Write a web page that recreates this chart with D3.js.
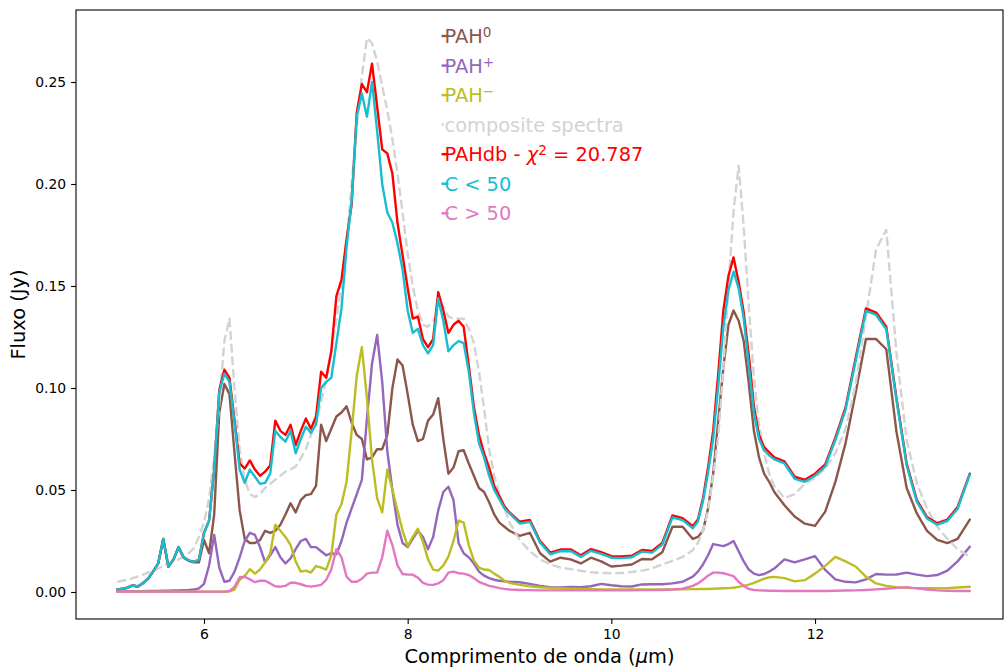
<!DOCTYPE html>
<html>
<head>
<meta charset="utf-8">
<script src="https://cdn.jsdelivr.net/npm/d3@7"></script>
<style>
  body { margin: 0; background: #fff; }
  svg { display: block; }
  text { font-family: "DejaVu Sans", sans-serif; }
</style>
</head>
<body>
<svg id="chart" width="1004" height="667"></svg>
<script>
// ---------------- DATA ----------------
const wavelength = [
  5.15, 5.20, 5.25, 5.30, 5.35, 5.40, 5.45, 5.50, 5.55, 5.60,
  5.65, 5.70, 5.75, 5.80, 5.85, 5.90, 5.95, 6.00, 6.05, 6.10,
  6.15, 6.20, 6.25, 6.30, 6.35, 6.40, 6.45, 6.50, 6.55, 6.60,
  6.65, 6.70, 6.75, 6.80, 6.85, 6.90, 6.95, 7.00, 7.05, 7.10,
  7.15, 7.20, 7.25, 7.30, 7.35, 7.40, 7.45, 7.50, 7.55, 7.60,
  7.65, 7.70, 7.75, 7.80, 7.85, 7.90, 7.95, 8.00, 8.05, 8.10,
  8.15, 8.20, 8.25, 8.30, 8.35, 8.40, 8.45, 8.50, 8.55, 8.60,
  8.65, 8.70, 8.75, 8.80, 8.85, 8.90, 8.95, 9.00,
  9.1, 9.2, 9.3, 9.4, 9.5, 9.6, 9.7, 9.8, 9.9, 10.0, 10.1, 10.2, 10.3, 10.4, 10.5, 10.6, 10.7, 10.8,
  10.85, 10.9, 10.95, 11.0, 11.05, 11.1, 11.15, 11.2, 11.25, 11.3, 11.35, 11.4, 11.45, 11.5, 11.55, 11.6,
  11.7, 11.8, 11.9, 12.0, 12.1, 12.2, 12.3, 12.4, 12.5, 12.6, 12.7, 12.8, 12.9, 13.0, 13.1, 13.2, 13.3, 13.4, 13.52
];

const pah0 = [
  0.0013, 0.0016, 0.0021, 0.0032, 0.0027, 0.0043, 0.0065, 0.0100, 0.0140, 0.0258,
  0.0124, 0.0158, 0.0218, 0.0168, 0.0153, 0.0145, 0.0145, 0.0255, 0.0190, 0.0380,
  0.0880, 0.1020, 0.0970, 0.0680, 0.0400, 0.0260, 0.0240, 0.0240, 0.0255, 0.0300,
  0.0290, 0.0300, 0.0330, 0.0380, 0.0435, 0.0390, 0.0450, 0.0475, 0.0480, 0.0520,
  0.0820, 0.0740, 0.0800, 0.0860, 0.0880, 0.0910, 0.0830, 0.0770, 0.0750, 0.0650,
  0.0660, 0.0700, 0.0700, 0.0770, 0.1000, 0.1140, 0.1110, 0.0970, 0.0820, 0.0740,
  0.0750, 0.0840, 0.0870, 0.0950, 0.0750, 0.0580, 0.0610, 0.0690, 0.0695, 0.0630,
  0.0570, 0.0510, 0.0490, 0.0440, 0.0380, 0.0340, 0.0320, 0.0300,
  0.0275, 0.0290, 0.0190, 0.0149, 0.0168, 0.0160, 0.0140, 0.0168, 0.0150, 0.0125, 0.0129, 0.0135, 0.0162, 0.0160, 0.0195, 0.0320, 0.0320, 0.0260,
  0.0270, 0.0300, 0.0410, 0.0580, 0.0840, 0.1100, 0.1310, 0.1380, 0.1330, 0.1230, 0.1020, 0.0790, 0.0660, 0.0580, 0.0540, 0.0490,
  0.0425, 0.0370, 0.0335, 0.0324, 0.0394, 0.0540, 0.0730, 0.0980, 0.1240, 0.1240, 0.1190, 0.0785, 0.0510, 0.0385, 0.0300, 0.0255, 0.0240, 0.0260, 0.0355
];

const pahPlus = [
  0.0003, 0.0003, 0.0003, 0.0004, 0.0004, 0.0004, 0.0005, 0.0005, 0.0005, 0.0006,
  0.0006, 0.0007, 0.0008, 0.0009, 0.0010, 0.0012, 0.0018, 0.0040, 0.0130, 0.0280,
  0.0120, 0.0050, 0.0055, 0.0100, 0.0170, 0.0250, 0.0290, 0.0280, 0.0220, 0.0145,
  0.0180, 0.0220, 0.0170, 0.0140, 0.0165, 0.0210, 0.0250, 0.0260, 0.0220, 0.0220,
  0.0200, 0.0180, 0.0190, 0.0185, 0.0250, 0.0340, 0.0410, 0.0480, 0.0550, 0.0850,
  0.1120, 0.1260, 0.1030, 0.0690, 0.0500, 0.0330, 0.0240, 0.0220, 0.0260, 0.0300,
  0.0270, 0.0210, 0.0270, 0.0400, 0.0490, 0.0516, 0.0450, 0.0240, 0.0190, 0.0170,
  0.0140, 0.0100, 0.0080, 0.0068, 0.0060, 0.0055, 0.0052, 0.0050,
  0.0048, 0.0040, 0.0030, 0.0024, 0.0022, 0.0025, 0.0023, 0.0028, 0.0040, 0.0033, 0.0028, 0.0027, 0.0037, 0.0038, 0.0038, 0.0042, 0.0050, 0.0075,
  0.0100, 0.0135, 0.0180, 0.0235, 0.0230, 0.0225, 0.0235, 0.0250, 0.0200, 0.0150, 0.0110, 0.0090, 0.0083, 0.0088, 0.0100, 0.0115,
  0.0160, 0.0145, 0.0160, 0.0176, 0.0108, 0.0062, 0.0050, 0.0047, 0.0062, 0.0088, 0.0085, 0.0086, 0.0095, 0.0085, 0.0078, 0.0083, 0.0105, 0.0150, 0.0222
];

const pahMinus = [
  0.0001, 0.0001, 0.0001, 0.0001, 0.0001, 0.0001, 0.0001, 0.0001, 0.0001, 0.0001,
  0.0001, 0.0001, 0.0001, 0.0001, 0.0001, 0.0001, 0.0001, 0.0001, 0.0001, 0.0001,
  0.0001, 0.0001, 0.0003, 0.0012, 0.0060, 0.0078, 0.0112, 0.0090, 0.0110, 0.0145,
  0.0190, 0.0330, 0.0300, 0.0270, 0.0230, 0.0150, 0.0100, 0.0105, 0.0095, 0.0127,
  0.0120, 0.0110, 0.0180, 0.0380, 0.0430, 0.0540, 0.0790, 0.1060, 0.1200, 0.0950,
  0.0650, 0.0460, 0.0390, 0.0600, 0.0500, 0.0400, 0.0300, 0.0225, 0.0270, 0.0310,
  0.0245, 0.0160, 0.0110, 0.0105, 0.0130, 0.0173, 0.0250, 0.0350, 0.0340, 0.0230,
  0.0155, 0.0120, 0.0110, 0.0108, 0.0090, 0.0075, 0.0055, 0.0045,
  0.0035, 0.0028, 0.0023, 0.0020, 0.0018, 0.0016, 0.0015, 0.0014, 0.0013, 0.0012, 0.0012, 0.0012, 0.0012, 0.0012, 0.0012, 0.0013, 0.0013, 0.0014,
  0.0014, 0.0015, 0.0015, 0.0016, 0.0017, 0.0018, 0.0019, 0.0021, 0.0025, 0.0030, 0.0036, 0.0045, 0.0055, 0.0065, 0.0072, 0.0074,
  0.0068, 0.0052, 0.0058, 0.0090, 0.0128, 0.0172, 0.0150, 0.0125, 0.0075, 0.0042, 0.0030, 0.0023, 0.0020, 0.0019, 0.0018, 0.0018, 0.0019, 0.0022, 0.0026
];

const composite = [
  0.0050, 0.0055, 0.0060, 0.0068, 0.0076, 0.0085, 0.0095, 0.0105, 0.0115, 0.0128,
  0.0140, 0.0150, 0.0160, 0.0173, 0.0190, 0.0215, 0.0270, 0.0340, 0.0460, 0.0660,
  0.0920, 0.1230, 0.1340, 0.0990, 0.0700, 0.0550, 0.0480, 0.0465, 0.0480, 0.0510,
  0.0530, 0.0550, 0.0570, 0.0590, 0.0600, 0.0615, 0.0655, 0.0700, 0.0770, 0.0840,
  0.0930, 0.1040, 0.1180, 0.1330, 0.1520, 0.1720, 0.2000, 0.2280, 0.2530, 0.2715,
  0.2690, 0.2600, 0.2480, 0.2360, 0.2220, 0.2050, 0.1860, 0.1660, 0.1500, 0.1380,
  0.1310, 0.1300, 0.1330, 0.1370, 0.1400, 0.1350, 0.1340, 0.1340, 0.1340, 0.1290,
  0.1220, 0.1080, 0.0900, 0.0700, 0.0570, 0.0480, 0.0410, 0.0340,
  0.0255, 0.0200, 0.0160, 0.0135, 0.0120, 0.0112, 0.0104, 0.0097, 0.0093, 0.0092, 0.0093, 0.0098, 0.0105, 0.0115, 0.0135, 0.0152, 0.0172, 0.0205,
  0.0240, 0.0300, 0.0400, 0.0570, 0.0760, 0.1100, 0.1500, 0.1870, 0.2090, 0.1790, 0.1400, 0.1050, 0.0820, 0.0680, 0.0580, 0.0520,
  0.0460, 0.0480, 0.0530, 0.0560, 0.0605, 0.0680, 0.0800, 0.1020, 0.1350, 0.1680, 0.1775, 0.1170, 0.0745, 0.0533, 0.0410, 0.0320, 0.0260, 0.0210, 0.0173
];

const pahdbTotal = [
  0.0013, 0.0016, 0.0021, 0.0032, 0.0027, 0.0043, 0.0065, 0.0100, 0.0140, 0.0260,
  0.0125, 0.0160, 0.0220, 0.0170, 0.0155, 0.0148, 0.0158, 0.0290, 0.0350, 0.0600,
  0.0990, 0.1090, 0.1050, 0.0840, 0.0630, 0.0605, 0.0645, 0.0600, 0.0570, 0.0590,
  0.0620, 0.0840, 0.0790, 0.0770, 0.0820, 0.0720, 0.0790, 0.0850, 0.0800, 0.0860,
  0.1080, 0.1050, 0.1180, 0.1450, 0.1530, 0.1730, 0.1900, 0.2350, 0.2490, 0.2450,
  0.2590, 0.2380, 0.2170, 0.2150, 0.2050, 0.1810, 0.1650, 0.1490, 0.1340, 0.1350,
  0.1240, 0.1200, 0.1240, 0.1470, 0.1380, 0.1270, 0.1310, 0.1330, 0.1300, 0.1110,
  0.0910, 0.0770, 0.0680, 0.0610, 0.0520, 0.0470, 0.0420, 0.0390,
  0.0345, 0.0353, 0.0250, 0.0193, 0.0208, 0.0209, 0.0180, 0.0210, 0.0195, 0.0176, 0.0174, 0.0178, 0.0206, 0.0201, 0.0240, 0.0375, 0.0362, 0.0322,
  0.0355, 0.0460, 0.0610, 0.0790, 0.1070, 0.1380, 0.1550, 0.1640, 0.1520, 0.1370, 0.1160, 0.0910, 0.0770, 0.0710, 0.0685, 0.0660,
  0.0640, 0.0565, 0.0550, 0.0580, 0.0625, 0.0757, 0.0905, 0.1150, 0.1390, 0.1370, 0.1300, 0.0950, 0.0630, 0.0450, 0.0367, 0.0337, 0.0355, 0.0416, 0.0580
];

const cLess50 = [
  0.0013, 0.0016, 0.0021, 0.0032, 0.0027, 0.0043, 0.0065, 0.0100, 0.0140, 0.0260,
  0.0125, 0.0160, 0.0220, 0.0170, 0.0155, 0.0148, 0.0158, 0.0288, 0.0350, 0.0600,
  0.0980, 0.1070, 0.1030, 0.0830, 0.0600, 0.0535, 0.0600, 0.0565, 0.0530, 0.0535,
  0.0580, 0.0790, 0.0760, 0.0737, 0.0790, 0.0680, 0.0750, 0.0810, 0.0780, 0.0820,
  0.1000, 0.1030, 0.1050, 0.1220, 0.1390, 0.1690, 0.1920, 0.2330, 0.2444, 0.2330,
  0.2500, 0.2260, 0.2000, 0.1860, 0.1810, 0.1710, 0.1580, 0.1380, 0.1270, 0.1290,
  0.1210, 0.1170, 0.1210, 0.1440, 0.1330, 0.1180, 0.1210, 0.1230, 0.1220, 0.1080,
  0.0880, 0.0730, 0.0660, 0.0570, 0.0500, 0.0455, 0.0410, 0.0385,
  0.0336, 0.0344, 0.0242, 0.0185, 0.0200, 0.0201, 0.0172, 0.0202, 0.0187, 0.0168, 0.0166, 0.0170, 0.0198, 0.0193, 0.0232, 0.0365, 0.0352, 0.0312,
  0.0345, 0.0445, 0.0585, 0.0750, 0.1010, 0.1300, 0.1480, 0.1570, 0.1490, 0.1340, 0.1110, 0.0880, 0.0750, 0.0695, 0.0670, 0.0650,
  0.0630, 0.0555, 0.0540, 0.0570, 0.0615, 0.0745, 0.0893, 0.1135, 0.1378, 0.1358, 0.1288, 0.0940, 0.0620, 0.0442, 0.0360, 0.0330, 0.0348, 0.0408, 0.0575
];

const cMore50 = [
  0.0002, 0.0002, 0.0002, 0.0002, 0.0002, 0.0002, 0.0002, 0.0002, 0.0002, 0.0002,
  0.0002, 0.0002, 0.0002, 0.0002, 0.0002, 0.0002, 0.0002, 0.0002, 0.0002, 0.0002,
  0.0002, 0.0002, 0.0005, 0.0025, 0.0072, 0.0075, 0.0062, 0.0048, 0.0055, 0.0055,
  0.0042, 0.0028, 0.0026, 0.0030, 0.0045, 0.0045, 0.0038, 0.0030, 0.0026, 0.0030,
  0.0035, 0.0060, 0.0110, 0.0210, 0.0170, 0.0075, 0.0050, 0.0050, 0.0065, 0.0090,
  0.0095, 0.0095, 0.0170, 0.0300, 0.0230, 0.0130, 0.0088, 0.0085, 0.0085, 0.0070,
  0.0045, 0.0036, 0.0035, 0.0042, 0.0058, 0.0095, 0.0100, 0.0092, 0.0090, 0.0083,
  0.0068, 0.0050, 0.0040, 0.0030, 0.0025, 0.0019, 0.0015, 0.0012,
  0.0010, 0.0009, 0.0008, 0.0008, 0.0008, 0.0008, 0.0008, 0.0008, 0.0008, 0.0008, 0.0008, 0.0008, 0.0009, 0.0009, 0.0010, 0.0012, 0.0016, 0.0030,
  0.0042, 0.0060, 0.0080, 0.0095, 0.0095, 0.0092, 0.0085, 0.0078, 0.0050, 0.0030, 0.0015, 0.0010, 0.0008, 0.0007, 0.0006, 0.0006,
  0.0005, 0.0005, 0.0005, 0.0005, 0.0005, 0.0006, 0.0007, 0.0008, 0.0010, 0.0013, 0.0016, 0.0020, 0.0024, 0.0018, 0.0012, 0.0008, 0.0006, 0.0005, 0.0005
];

const xTickValues = [6, 8, 10, 12];
const xTickLabels = ["6", "8", "10", "12"];
const yTickValues = [0, 0.05, 0.10, 0.15, 0.20, 0.25];
const yTickLabels = ["0.00", "0.05", "0.10", "0.15", "0.20", "0.25"];

// legend labels as rich-text parts
const legendLabels = [
  [{t: "PAH"}, {t: "0", sup: true}],
  [{t: "PAH"}, {t: "+", sup: true}],
  [{t: "PAH"}, {t: "\u2212", sup: true}],
  [{t: "composite spectra"}],
  [{t: "PAHdb - "}, {t: "\u03C7", it: true}, {t: "2", sup: true}, {t: " = 20.787"}],
  [{t: "C < 50"}],
  [{t: "C > 50"}]
];

// ---------------- DRAW ----------------
const svg = d3.select("#chart");
const X0 = 76, X1 = 1003, Y0 = 10, Y1 = 619;

const x = d3.scaleLinear().domain([4.743, 13.846]).range([X0, X1]);
const y = d3.scaleLinear().domain([-0.01324, 0.2853]).range([Y1, Y0]);

const series = [
  {values: pah0,       color: "#8c564b"},
  {values: pahPlus,    color: "#9467bd"},
  {values: pahMinus,   color: "#bcbd22"},
  {values: composite,  color: "#d3d3d3", dash: "8.9,3.8"},
  {values: pahdbTotal, color: "#ff0000"},
  {values: cLess50,    color: "#17becf"},
  {values: cMore50,    color: "#e377c2"}
];

const line = d3.line()
  .x((d, i) => x(wavelength[i]))
  .y(d => y(d));

const gLines = svg.append("g");
series.forEach(s => {
  gLines.append("path")
    .attr("d", line(s.values))
    .attr("fill", "none")
    .attr("stroke", s.color)
    .attr("stroke-width", 2.4)
    .attr("stroke-linejoin", "round")
    .attr("stroke-linecap", s.dash ? "butt" : "round")
    .attr("stroke-dasharray", s.dash || null);
});

// axes
const gx = svg.append("g")
  .attr("transform", `translate(0,${Y1})`)
  .call(d3.axisBottom(x).tickValues(xTickValues)
    .tickFormat((d, i) => xTickLabels[i]).tickSize(4.9).tickPadding(4.9));
gx.select(".domain").remove();
gx.attr("font-size", 13.9).attr("font-family", "DejaVu Sans");
gx.selectAll("line").attr("stroke", "#000").attr("stroke-width", 1.1);
gx.selectAll("text").attr("fill", "#000");

const gy = svg.append("g")
  .attr("transform", `translate(${X0},0)`)
  .call(d3.axisLeft(y).tickValues(yTickValues)
    .tickFormat((d, i) => yTickLabels[i]).tickSize(4.9).tickPadding(4.9));
gy.select(".domain").remove();
gy.attr("font-size", 13.9).attr("font-family", "DejaVu Sans");
gy.selectAll("line").attr("stroke", "#000").attr("stroke-width", 1.1);
gy.selectAll("text").attr("fill", "#000");

// frame
svg.append("rect")
  .attr("x", X0).attr("y", Y0)
  .attr("width", X1 - X0).attr("height", Y1 - Y0)
  .attr("fill", "none").attr("stroke", "#000").attr("stroke-width", 1.1);

// axis labels
const xl = svg.append("text")
  .attr("x", (X0 + X1) / 2).attr("y", 663)
  .attr("text-anchor", "middle").attr("font-size", 19.4).attr("fill", "#000");
xl.append("tspan").text("Comprimento de onda (");
xl.append("tspan").attr("font-style", "italic").text("\u03BC");
xl.append("tspan").text("m)");

svg.append("text")
  .attr("transform", `translate(25,${(Y0 + Y1) / 2}) rotate(-90)`)
  .attr("text-anchor", "middle").attr("font-size", 19.4).attr("fill", "#000")
  .text("Fluxo (Jy)");

// legend
const gLeg = svg.append("g");
legendLabels.forEach((parts, i) => {
  const s = series[i];
  const base = 43 + i * 29.55;
  gLeg.append("line")
    .attr("x1", 441.5).attr("x2", 448.5)
    .attr("y1", base - 7).attr("y2", base - 7)
    .attr("stroke", s.color).attr("stroke-width", 2.4)
    .attr("stroke-dasharray", s.dash ? "2,5" : null);
  const t = gLeg.append("text")
    .attr("x", 444.5).attr("y", base)
    .attr("font-size", 19.4).attr("fill", s.color)
    .style("white-space", "pre");
  let shift = 0;
  parts.forEach(p => {
    const ts = t.append("tspan").text(p.t);
    if (p.sup) {
      ts.attr("font-size", 13.6).attr("dy", -6 - shift);
      shift = -6;
    } else {
      if (shift !== 0) { ts.attr("dy", -shift); shift = 0; }
      if (p.it) ts.attr("font-style", "italic");
    }
  });
});
</script>
</body>
</html>
